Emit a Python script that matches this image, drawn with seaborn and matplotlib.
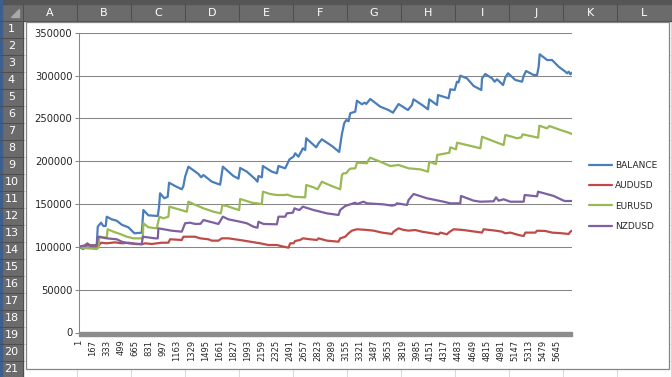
import matplotlib
matplotlib.use('Agg')
from matplotlib import pyplot as plt
from matplotlib.patches import Rectangle, Polygon
import seaborn as sns
import pandas as pd

# equity curves (trade number, account value)
balance_idx = [1, 58, 105, 137, 216, 228, 267, 294, 322, 334, 393, 452, 511, 589, 660, 747, 766, 825, 936, 951,
               963, 1013, 1053, 1069, 1140, 1219, 1238, 1258, 1297, 1415, 1447, 1474, 1573, 1671, 1703, 1828, 1887,
               1907, 1986, 2084, 2111, 2123, 2163, 2175, 2281, 2340, 2359, 2438, 2489, 2536, 2556, 2595, 2647, 2674,
               2686, 2804, 2831, 2871, 2989, 3075, 3107, 3134, 3158, 3186, 3205, 3264, 3284, 3343, 3374, 3394, 3441,
               3559, 3657, 3709, 3775, 3854, 3885, 3933, 3952, 4070, 4122, 4137, 4228, 4240, 4365, 4385, 4436, 4464,
               4483, 4503, 4582, 4660, 4751, 4759, 4798, 4877, 4908, 4936, 5007, 5034, 5066, 5152, 5231, 5250, 5278,
               5368, 5408, 5427, 5439, 5486, 5526, 5585, 5663, 5742, 5762, 5781, 5801, 5820]
balance = [100000, 97500, 104200, 101000, 101900, 123600, 128300, 124400, 124400, 135300, 132200, 130600, 125900,
           122900, 115900, 116600, 143100, 136900, 136100, 147000, 162600, 156800, 158600, 175000, 171100, 167300,
           171100, 182000, 193700, 185200, 181300, 184000, 176200, 172700, 193700, 182800, 179700, 192200, 187900,
           179300, 176200, 182800, 181300, 194500, 187900, 186000, 194500, 191800, 202300, 205400, 209300, 205400,
           215200, 213200, 226900, 216300, 221000, 225700, 217900, 210900, 231900, 244400, 248200, 246800, 256100,
           258000, 270800, 266600, 268500, 267000, 272800, 263800, 259900, 256800, 266900, 261900, 259900, 265800,
           272400, 264600, 260700, 272400, 265800, 277400, 273600, 284100, 283300, 293000, 292200, 300000, 296900,
           288000, 283300, 296900, 302000, 296900, 293000, 295800, 289100, 298100, 302800, 295000, 293000, 299600,
           305500, 300800, 300800, 310500, 325000, 321500, 318300, 318300, 310500, 304700, 302800, 304700, 301600,
           303500]

audusd_idx = [1, 58, 98, 137, 235, 267, 334, 432, 511, 589, 668, 747, 786, 865, 983, 1061, 1081, 1219, 1238, 1376,
              1435, 1533, 1573, 1651, 1691, 1769, 1927, 2025, 2143, 2241, 2340, 2418, 2477, 2497, 2536, 2556, 2615,
              2647, 2733, 2812, 2831, 2930, 3067, 3087, 3146, 3185, 3225, 3284, 3402, 3480, 3579, 3697, 3716, 3775,
              3834, 3893, 3972, 4051, 4169, 4247, 4267, 4346, 4365, 4424, 4542, 4621, 4759, 4778, 4916, 4995, 5034,
              5093, 5191, 5250, 5270, 5388, 5408, 5506, 5585, 5703, 5781, 5801, 5820]
audusd = [100000, 100300, 103400, 102200, 101000, 104900, 104200, 105300, 104200, 104900, 103400, 103000, 104200,
          103400, 104900, 104900, 108900, 108100, 111900, 111900, 110000, 108900, 107300, 107300, 110000, 110000,
          107700, 106100, 104200, 102200, 102200, 100300, 99100, 104200, 104200, 106900, 108100, 110000, 108900,
          108100, 110000, 107300, 106100, 110000, 111900, 115900, 119000, 120600, 119800, 119000, 116700, 115100,
          117800, 121700, 119800, 119000, 119700, 117800, 115900, 114700, 116700, 114700, 116700, 120600, 119700,
          118600, 116700, 120600, 119000, 117800, 115900, 116700, 113900, 112700, 116700, 116700, 118900, 118600,
          116700, 115900, 115100, 117800, 118900]

eurusd_idx = [1, 58, 216, 235, 246, 334, 345, 412, 491, 570, 648, 759, 766, 825, 924, 955, 1002, 1061, 1072, 1140,
              1238, 1278, 1297, 1356, 1474, 1592, 1679, 1698, 1750, 1828, 1895, 1907, 1946, 2045, 2163, 2175, 2261,
              2340, 2438, 2458, 2536, 2674, 2686, 2772, 2819, 2871, 2930, 3008, 3087, 3107, 3126, 3158, 3186, 3205,
              3264, 3284, 3402, 3421, 3441, 3559, 3677, 3775, 3893, 4031, 4122, 4137, 4216, 4231, 4373, 4385, 4452,
              4464, 4582, 4739, 4759, 4877, 5014, 5034, 5113, 5172, 5222, 5238, 5420, 5435, 5526, 5553, 5663, 5781,
              5820]
eurusd = [100000, 98700, 97500, 99000, 112000, 110700, 120600, 117800, 115100, 111900, 110000, 110000, 127600,
          122900, 121700, 135300, 133400, 135300, 147000, 145100, 142300, 141100, 152800, 150100, 145100, 141100,
          139200, 148900, 147800, 145100, 143100, 156000, 154800, 151600, 150100, 164500, 161800, 160600, 160600,
          161200, 158600, 157900, 172300, 169600, 167300, 176200, 173500, 170300, 167300, 184000, 186000, 186000,
          189800, 191400, 191800, 198400, 197700, 201500, 204200, 199500, 194500, 195700, 191800, 190600, 187900,
          199500, 196800, 207400, 210000, 216300, 214000, 221700, 219000, 215200, 228700, 224100, 219000, 230700,
          228700, 226900, 228000, 231500, 227600, 241600, 238500, 241200, 237300, 233400, 231900]

nzdusd_idx = [1, 58, 216, 228, 334, 452, 511, 589, 747, 759, 904, 936, 943, 1101, 1219, 1258, 1317, 1376, 1440,
              1474, 1651, 1703, 1769, 1848, 1907, 1986, 2064, 2111, 2123, 2182, 2340, 2359, 2438, 2458, 2529, 2548,
              2576, 2607, 2646, 2772, 2930, 3067, 3087, 3146, 3264, 3284, 3362, 3402, 3598, 3697, 3736, 3756, 3874,
              3893, 3952, 4110, 4306, 4385, 4503, 4511, 4660, 4739, 4896, 4924, 4955, 5014, 5093, 5250, 5262, 5368,
              5408, 5420, 5565, 5604, 5722, 5742, 5820]
nzdusd = [100000, 101400, 101900, 111900, 110000, 108900, 106100, 104200, 103400, 111900, 110000, 110000, 121700,
          118900, 117800, 127600, 128300, 126800, 127000, 131400, 126800, 135300, 132200, 130600, 129400, 127600,
          123600, 122400, 129400, 126800, 126400, 135300, 135300, 139200, 140000, 145100, 143900, 143100, 147000,
          143100, 139200, 137300, 143100, 147800, 151600, 150100, 152800, 150900, 149700, 148200, 149000, 150900,
          149000, 154800, 161800, 156800, 152800, 150900, 150900, 159500, 154000, 152800, 153300, 157900, 154000,
          155600, 152800, 152800, 160600, 159500, 159100, 164500, 160600, 159500, 154000, 153600, 153600]

series_names = ['BALANCE', 'AUDUSD', 'EURUSD', 'NZDUSD']
series_colors = ['#4a7ebb', '#be4b48', '#98b954', '#7d60a0']
y_ticks = list(range(0, 350001, 50000))
x_ticks = list(range(1, 5646, 166))
col_letters = ['A', 'B', 'C', 'D', 'E', 'F', 'G', 'H', 'I', 'J', 'K', 'L']
row_numbers = list(range(1, 22))

# long-form table for seaborn
frames = []
for name, xs, ys in zip(series_names, [balance_idx, audusd_idx, eurusd_idx, nzdusd_idx],
                        [balance, audusd, eurusd, nzdusd]):
    frames.append(pd.DataFrame({'trade': xs, 'value': ys, 'series': name}))
df = pd.concat(frames, ignore_index=True)

sns.set_style('white')
plt.rcParams['font.family'] = ['DejaVu Sans']

W, H = 672, 377
fig = plt.figure(figsize=(W / 100, H / 100), dpi=100)

# --- spreadsheet background drawn in pixel coordinates ---
bg = fig.add_axes([0, 0, 1, 1])
bg.set_xlim(0, W)
bg.set_ylim(H, 0)
bg.axis('off')
header = '#6b6b6b'
for cx in range(23, W, 54):
    bg.plot([cx, cx], [20.5, H], color='#d9d9d9', lw=0.75)
for k in range(len(row_numbers) + 1):
    ry = 20.5 + 17 * k
    bg.plot([23, W], [ry, ry], color='#d9d9d9', lw=0.75)
bg.add_patch(Rectangle((0, 0), W, 20.5, color=header, zorder=2))
bg.add_patch(Rectangle((0, 0), 23, H, color=header, zorder=2))
bg.add_patch(Rectangle((0, 0), W, 3.5, color='#555555', zorder=3))
bg.add_patch(Rectangle((0, 0), 1.5, H, color='#3d5f8f', zorder=3))
bg.add_patch(Polygon([[19, 9], [19, 17], [11, 17]], color='#a8a8a8', zorder=3))
for i, letter in enumerate(col_letters):
    cx = 23 + 54 * i
    bg.plot([cx, cx], [3.5, 20.5], color='#4e4e4e', lw=0.75, zorder=3)
    bg.text(cx + 27, 12.5, letter, color='white', fontsize=8, ha='center', va='center', zorder=4)
bg.plot([0, W], [20.5, 20.5], color='#4e4e4e', lw=0.75, zorder=3)
for i, n in enumerate(row_numbers):
    ry = 20.5 + 17 * i
    bg.plot([0, 23], [ry + 17, ry + 17], color='#4e4e4e', lw=0.75, zorder=3)
    bg.text(11.5, ry + 8.5, str(n), color='white', fontsize=8, ha='center', va='center', zorder=4)
bg.plot([23, 23], [20.5, H], color='#4e4e4e', lw=0.75, zorder=3)
# chart area
bg.add_patch(Rectangle((26, 21.5), 643, 347.5, fc='white', ec='#868686', lw=0.9, zorder=5))

# --- chart ---
ax = fig.add_axes([78.5 / W, 1 - 332.5 / H, 493.5 / W, 299.6 / H])
ax.set_facecolor('none')
sns.lineplot(data=df, x='trade', y='value', hue='series', hue_order=series_names,
             palette=series_colors, estimator=None, linewidth=1.6, ax=ax)
ax.set_xlim(1, 5820)
ax.set_ylim(0, 350000)
ax.set_xlabel('')
ax.set_ylabel('')

ax.tick_params(axis='y', left=True, length=2.9, width=0.75, color='#868686', pad=1.5)
ax.tick_params(axis='x', bottom=True, length=0, pad=5.2)
ax.set_yticks(y_ticks)
ax.set_yticklabels([str(v) for v in y_ticks], fontsize=7.2)
ax.set_xticks(x_ticks)
ax.set_xticklabels([str(v) for v in x_ticks], rotation=90, fontsize=6)
ax.yaxis.grid(True, color='#868686', lw=0.75)
ax.set_axisbelow(True)
for side in ['top', 'right', 'bottom']:
    ax.spines[side].set_visible(False)
ax.spines['left'].set_color('#868686')
ax.spines['left'].set_linewidth(0.75)
# thick category axis band
ax.add_patch(Rectangle((0, -3.6 / 299.6), 1, 4.2 / 299.6, transform=ax.transAxes,
                       color='#8c8c8c', clip_on=False, zorder=3))

handles, labels = ax.get_legend_handles_labels()
for h in handles:
    h.set_linewidth(1.6)
ax.legend(handles, labels, loc='upper left', bbox_to_anchor=(589 / W, 1 - 161 / H),
          bbox_transform=fig.transFigure, frameon=False, fontsize=6.5, handlelength=2.6,
          handletextpad=0.25, labelspacing=1.25, borderpad=0, borderaxespad=0)

plt.savefig('out.png', dpi=100)
